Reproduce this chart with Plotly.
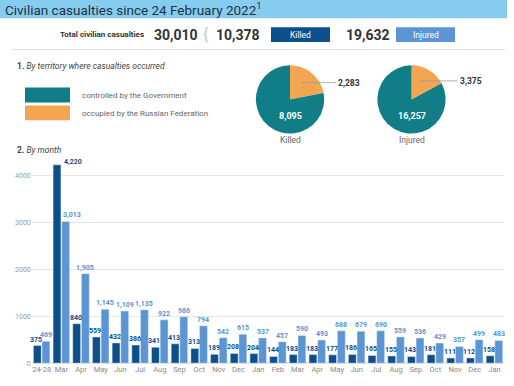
import math
import plotly.graph_objects as go

W, H = 514, 386

months = ["24-28", "Mar", "Apr", "May", "Jun", "Jul", "Aug", "Sep", "Oct", "Nov", "Dec", "Jan",
          "Feb", "Mar", "Apr", "May", "Jun", "Jul", "Aug", "Sep", "Oct", "Nov", "Dec", "Jan"]
killed = [375, 4220, 840, 559, 432, 386, 341, 413, 313, 189, 208, 204,
          144, 183, 183, 177, 186, 165, 155, 143, 181, 111, 112, 158]
injured = [469, 3013, 1905, 1145, 1109, 1135, 922, 986, 794, 542, 615, 537,
           457, 590, 493, 688, 679, 690, 559, 536, 429, 357, 499, 483]

total_casualties = 30010
total_killed = 10378
total_injured = 19632

territory = ["occupied by the Russian Federation", "controlled by the Government"]
killed_territory = [2283, 8095]
injured_territory = [3375, 16257]

C_KILLED = "#0d4f8b"
C_INJ = "#5b95d3"
C_TEAL = "#117d87"
C_ORANGE = "#f2a652"
C_BAR = "#85ccef"
TXT = "#333333"
GRAY = "#666666"
FONT = "Roboto, sans-serif"

BAR_W = 0.4
OFF_K = -0.42
OFF_I = 0.02


def px(x):
    return x / W


def py(y):
    return 1 - y / H


def fmt(v):
    return f"{v:,}"


fig = go.Figure()
x_idx = list(range(len(months)))

fig.add_trace(go.Bar(
    x=x_idx, y=killed, name="Killed", marker_color=C_KILLED,
    width=BAR_W, offset=OFF_K, showlegend=False))
fig.add_trace(go.Bar(
    x=x_idx, y=injured, name="Injured", marker_color=C_INJ,
    width=BAR_W, offset=OFF_I, showlegend=False))

# Pies
pies = [(killed_territory, 290, "Killed"), (injured_territory, 411.5, "Injured")]
pie_cy, pie_r = 100.5, 34.5
for vals, cx, lab in pies:
    fig.add_trace(go.Pie(
        labels=territory, values=vals, sort=False, direction="clockwise",
        marker=dict(colors=[C_ORANGE, C_TEAL], line=dict(width=0)),
        textinfo="none", hoverinfo="label+value", showlegend=False,
        domain=dict(x=[px(cx - pie_r), px(cx + pie_r)], y=[py(pie_cy + pie_r), py(pie_cy - pie_r)])))

fig.update_layout(
    width=W, height=H, margin=dict(l=0, r=0, t=0, b=0),
    paper_bgcolor="white", plot_bgcolor="white",
    barmode="overlay",
    font=dict(family=FONT, color=GRAY),
    xaxis=dict(domain=[px(31.8), px(504.3)], range=[-0.5, 23.5], tickangle=0,
               tickvals=x_idx, ticktext=months, showgrid=False, zeroline=False,
               showline=False, ticks="", tickfont=dict(size=7.5, color="#8a8a8a")),
    yaxis=dict(domain=[py(367), py(158)], range=[0, 4400],
               tickvals=[0, 1000, 2000, 3000, 4000], showgrid=True, gridcolor="#e6e6e6",
               gridwidth=1, zeroline=True, zerolinecolor="#e6e6e6", showline=False, ticks="",
               tickfont=dict(size=7, color="#9a9a9a")),
)

shapes = []
annotations = []

# Bar value labels (placed at the data values through the axes)
for i in x_idx:
    k, inj = killed[i], injured[i]
    kc = i + OFF_K + BAR_W / 2
    ic = i + OFF_I + BAR_W / 2
    if k > inj:
        annotations.append(dict(xref="x", yref="y", x=i + OFF_K + BAR_W, y=k, xanchor="left", yanchor="middle",
                                xshift=1, yshift=3, text=f"<b>{fmt(k)}</b>", showarrow=False,
                                font=dict(family=FONT, size=7, color=C_KILLED)))
        annotations.append(dict(xref="x", yref="y", x=i + OFF_I, y=inj, xanchor="left", yanchor="bottom",
                                xshift=-1, yshift=1, text=f"<b>{fmt(inj)}</b>", showarrow=False,
                                font=dict(family=FONT, size=7, color=C_INJ)))
    else:
        annotations.append(dict(xref="x", yref="y", x=kc, y=k, xanchor="center", yanchor="bottom",
                                xshift=-1, yshift=0, text=f"<b>{fmt(k)}</b>", showarrow=False,
                                font=dict(family=FONT, size=7, color=C_KILLED)))
        annotations.append(dict(xref="x", yref="y", x=ic, y=inj, xanchor="center", yanchor="bottom",
                                yshift=0, text=f"<b>{fmt(inj)}</b>", showarrow=False,
                                font=dict(family=FONT, size=7, color=C_INJ)))

# Title bar
shapes.append(dict(type="rect", xref="paper", yref="paper", x0=0, x1=px(507), y0=py(18.5), y1=1,
                   fillcolor=C_BAR, line=dict(width=0), layer="below"))
annotations.append(dict(xref="paper", yref="paper", x=px(3), y=py(9.5), xanchor="left", yanchor="middle",
                        text="Civilian casualties since 24 February 2022<sup>1</sup>", showarrow=False,
                        font=dict(family=FONT, size=13.5, color="#23313f")))

# Totals row
annotations.append(dict(xref="paper", yref="paper", x=px(146), y=py(35), xanchor="right", yanchor="middle",
                        text="<b>Total civilian casualties</b>", showarrow=False,
                        font=dict(family=FONT, size=8, color=TXT)))
annotations.append(dict(xref="paper", yref="paper", x=px(152), y=py(35), xanchor="left", yanchor="middle",
                        text=f"<b>{fmt(total_casualties)}</b>", showarrow=False,
                        font=dict(family=FONT, size=14, color=TXT)))
annotations.append(dict(xref="paper", yref="paper", x=px(206), y=py(35), xanchor="center", yanchor="middle",
                        text="{", showarrow=False, font=dict(family=FONT, size=16, color="#c8c8c8")))
annotations.append(dict(xref="paper", yref="paper", x=px(214), y=py(35), xanchor="left", yanchor="middle",
                        text=f"<b>{fmt(total_killed)}</b>", showarrow=False,
                        font=dict(family=FONT, size=14, color=TXT)))
shapes.append(dict(type="rect", xref="paper", yref="paper", x0=px(271), x1=px(330), y0=py(42.5), y1=py(27.5),
                   fillcolor=C_KILLED, line=dict(width=0)))
annotations.append(dict(xref="paper", yref="paper", x=px(300.5), y=py(35), xanchor="center", yanchor="middle",
                        text="Killed", showarrow=False, font=dict(family=FONT, size=8.5, color="white")))
annotations.append(dict(xref="paper", yref="paper", x=px(344), y=py(35), xanchor="left", yanchor="middle",
                        text=f"<b>{fmt(total_injured)}</b>", showarrow=False,
                        font=dict(family=FONT, size=14, color=TXT)))
shapes.append(dict(type="rect", xref="paper", yref="paper", x0=px(396), x1=px(455), y0=py(42.5), y1=py(27.5),
                   fillcolor=C_INJ, line=dict(width=0)))
annotations.append(dict(xref="paper", yref="paper", x=px(425.5), y=py(35), xanchor="center", yanchor="middle",
                        text="Injured", showarrow=False, font=dict(family=FONT, size=8.5, color="white")))

# separator line
shapes.append(dict(type="line", xref="paper", yref="paper", x0=px(13), x1=px(505), y0=py(50), y1=py(50),
                   line=dict(color="#dddddd", width=1)))

# Section headings
annotations.append(dict(xref="paper", yref="paper", x=px(15), y=py(67), xanchor="left", yanchor="middle",
                        text="<b>1.</b> <i>By territory where casualties occurred</i>", showarrow=False,
                        font=dict(family=FONT, size=8.5, color="#444444")))
annotations.append(dict(xref="paper", yref="paper", x=px(15), y=py(152), xanchor="left", yanchor="middle",
                        text="<b>2.</b> <i>By month</i>", showarrow=False,
                        font=dict(family=FONT, size=8.5, color="#444444")))

# Legend
for i, (name, col) in enumerate([(territory[1], C_TEAL), (territory[0], C_ORANGE)]):
    y0 = 88.5 + i * 18
    shapes.append(dict(type="rect", xref="paper", yref="paper", x0=px(25), x1=px(70), y0=py(y0 + 15), y1=py(y0),
                       fillcolor=col, line=dict(width=0)))
    annotations.append(dict(xref="paper", yref="paper", x=px(80), y=py(y0 + 8), xanchor="left", yanchor="middle",
                            text=name, showarrow=False, font=dict(family=FONT, size=8, color="#666666")))

# Pie labels
for vals, cx, lab in pies:
    frac = vals[0] / sum(vals)
    ang = math.radians(frac * 180)
    dx = cx + 0.6 * pie_r * math.sin(ang)
    dy = pie_cy - 0.6 * pie_r * math.cos(ang)
    lx = cx + 46
    annotations.append(dict(xref="paper", yref="paper", x=px(dx), y=py(dy - 1), ax=lx - dx, ay=0,
                            xanchor="left", yanchor="middle", text=f"<b>{fmt(vals[0])}</b>",
                            showarrow=True, arrowhead=6, arrowsize=0.5, arrowwidth=0.8, arrowcolor="#999999",
                            font=dict(family=FONT, size=8.5, color=TXT)))
    annotations.append(dict(xref="paper", yref="paper", x=px(cx), y=py(117.5), xanchor="center", yanchor="middle",
                            text=f"<b>{fmt(vals[1])}</b>", showarrow=False,
                            font=dict(family=FONT, size=9, color="white")))
    annotations.append(dict(xref="paper", yref="paper", x=px(cx), y=py(141.5), xanchor="center", yanchor="middle",
                            text=lab, showarrow=False, font=dict(family=FONT, size=8.5, color="#666666")))

fig.update_layout(shapes=shapes, annotations=annotations)
fig.write_html("out.html", config={"displayModeBar": False},
               post_script="document.body.style.margin='0';document.body.style.overflow='hidden';")
